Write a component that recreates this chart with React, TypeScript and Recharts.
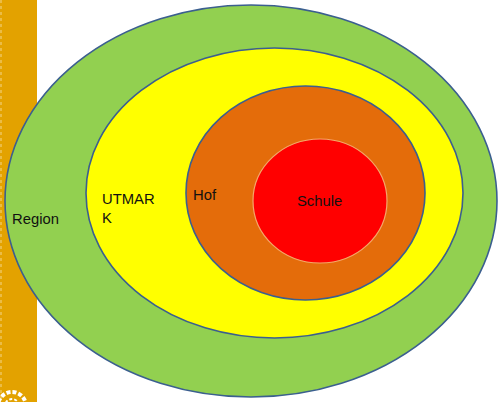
import React from "react";
import { ScatterChart, Scatter, XAxis, YAxis } from "recharts";

// nested zones, outermost first (units = px of the 500x402 frame)
const zoneNames = ["Region", "UTMARK", "Hof", "Schule"];
const zoneCenterX = [251, 274.5, 305.5, 320];
const zoneCenterY = [201, 193, 193, 201];
const zoneRadiusX = [246, 188.5, 119.5, 67];
const zoneRadiusY = [196, 145, 107, 62];

// label anchors (left edge x, baseline y) and line breaks
const labelX = [12, 102, 193, 297];
const labelY = [224, 204, 200, 206];
const labelLines = [["Region"], ["UTMAR", "K"], ["Hof"], ["Schule"]];

const FILLS = ["#92D050", "#FFFF00", "#E46C0A", "#FF0000"];
const STROKES = ["#3B5F8F", "#3B5F8F", "#3B5F8F", "#F5A66A"];

const W = 500;
const H = 402;

const zones = zoneNames.map((name, i) => ({
  name,
  x: zoneCenterX[i],
  y: zoneCenterY[i],
  rx: zoneRadiusX[i],
  ry: zoneRadiusY[i],
  idx: i,
}));

const labels = zoneNames.map((name, i) => ({
  name,
  x: labelX[i],
  y: labelY[i],
  lines: labelLines[i],
}));

function ZoneShape(props: any) {
  const { cx, cy, payload } = props;
  const i = payload.idx;
  return (
    <ellipse
      cx={cx}
      cy={cy}
      rx={payload.rx}
      ry={payload.ry}
      fill={FILLS[i]}
      stroke={STROKES[i]}
      strokeWidth={i === 3 ? 1.2 : 1.6}
    />
  );
}

function LabelShape(props: any) {
  const { cx, cy, payload } = props;
  return (
    <text
      x={cx}
      y={cy}
      fontFamily="'Liberation Sans', Arial, sans-serif"
      fontSize={14.8}
      fill="#111"
    >
      {payload.lines.map((l: string, k: number) => (
        <tspan key={k} x={cx} dy={k === 0 ? 0 : 19}>
          {l}
        </tspan>
      ))}
    </text>
  );
}

export default function App() {
  return (
    <div
      style={{
        position: "absolute",
        left: 0,
        top: 0,
        width: W,
        height: H,
        background: "#ffffff",
        overflow: "hidden",
      }}
    >
      {/* slide decoration: left stripe + emblem */}
      <svg width={W} height={H} style={{ position: "absolute", left: 0, top: 0 }}>
        <rect x={0} y={0} width={37} height={H} fill="#E3A200" />
        <line x1={1} y1={0} x2={1} y2={H} stroke="#F3D68A" strokeWidth={1} strokeDasharray="3 3" />
        <circle cx={12} cy={406} r={14} fill="none" stroke="#ffffff" strokeWidth={4} strokeDasharray="4 2" />
        <circle cx={12} cy={406} r={7} fill="none" stroke="#ffffff" strokeWidth={2} strokeDasharray="3 2" />
      </svg>
      <div style={{ position: "absolute", left: 0, top: 0 }}>
        <ScatterChart width={W} height={H} margin={{ top: 0, right: 0, bottom: 0, left: 0 }}>
          <XAxis type="number" dataKey="x" domain={[0, W]} hide />
          <YAxis type="number" dataKey="y" domain={[0, H]} reversed hide />
          <Scatter data={zones} shape={<ZoneShape />} isAnimationActive={false} />
          <Scatter data={labels} shape={<LabelShape />} isAnimationActive={false} />
        </ScatterChart>
      </div>
    </div>
  );
}
